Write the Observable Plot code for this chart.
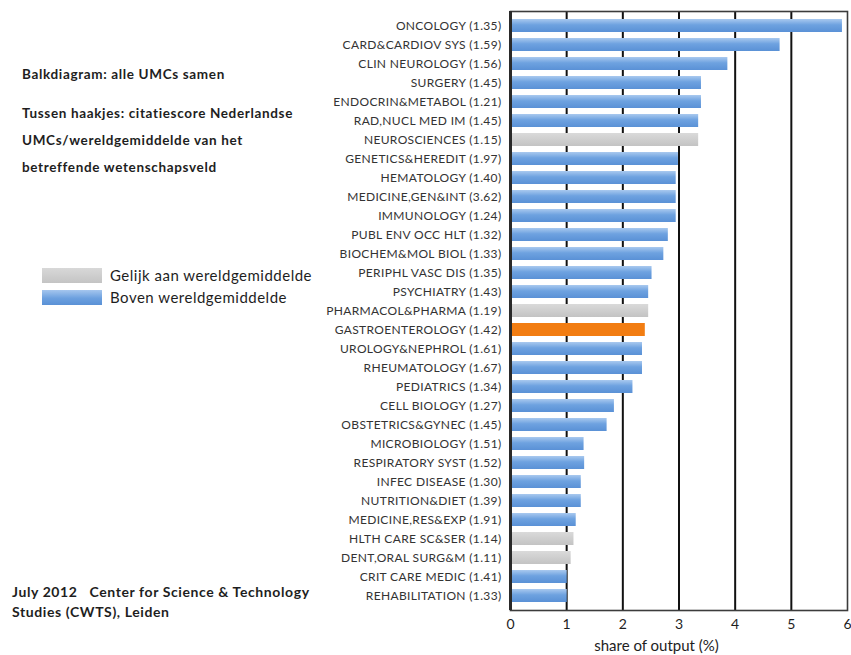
<!DOCTYPE html>
<html>
<head>
<meta charset="utf-8">
<script src="https://cdn.jsdelivr.net/npm/d3@7"></script>
<script src="https://cdn.jsdelivr.net/npm/@observablehq/plot@0.6"></script>
<style>
  html, body { margin: 0; padding: 0; background: #fff; }
  #page { position: relative; width: 851px; height: 655px; overflow: hidden; font-family: Lato, "Liberation Sans", sans-serif; color: #1e1e1e; }
  #chart { position: absolute; left: 0; top: 0; }
  .note { position: absolute; left: 22px; font-size: 13.5px; font-weight: 700; letter-spacing: 0.65px; white-space: nowrap; line-height: 16px; }
  .legend { position: absolute; left: 42px; font-size: 15px; letter-spacing: 0.5px; white-space: nowrap; }
  .legend .row { display: flex; align-items: center; height: 22px; }
  .legend .sw { width: 60px; height: 15px; margin-right: 8px; }
  .caption { position: absolute; left: 12px; top: 582px; font-size: 14px; font-weight: 700; letter-spacing: 0.6px; line-height: 20px; white-space: nowrap; }
</style>
</head>
<body>
<div id="page">
  <div id="chart"></div>
  <div class="note" style="top:66px">Balkdiagram: alle UMCs samen</div>
  <div class="note" style="top:105px">Tussen haakjes: citatiescore Nederlandse</div>
  <div class="note" style="top:132px">UMCs/wereldgemiddelde van het</div>
  <div class="note" style="top:159px">betreffende wetenschapsveld</div>
  <div class="legend" style="top:264px">
    <div class="row"><div class="sw" style="background:linear-gradient(#d8d8d8,#c4c4c4)"></div>Gelijk aan wereldgemiddelde</div>
    <div class="row"><div class="sw" style="background:linear-gradient(#a5c6ee,#6ca0df 55%,#5a91d6)"></div>Boven wereldgemiddelde</div>
  </div>
  <div class="caption">July 2012&nbsp;&nbsp;&nbsp;Center for Science &amp; Technology<br>Studies (CWTS), Leiden</div>
</div>
<script>
// Research fields, top to bottom
const fields = [
  "ONCOLOGY", "CARD&CARDIOV SYS", "CLIN NEUROLOGY", "SURGERY", "ENDOCRIN&METABOL",
  "RAD,NUCL MED IM", "NEUROSCIENCES", "GENETICS&HEREDIT", "HEMATOLOGY", "MEDICINE,GEN&INT",
  "IMMUNOLOGY", "PUBL ENV OCC HLT", "BIOCHEM&MOL BIOL", "PERIPHL VASC DIS", "PSYCHIATRY",
  "PHARMACOL&PHARMA", "GASTROENTEROLOGY", "UROLOGY&NEPHROL", "RHEUMATOLOGY", "PEDIATRICS",
  "CELL BIOLOGY", "OBSTETRICS&GYNEC", "MICROBIOLOGY", "RESPIRATORY SYST", "INFEC DISEASE",
  "NUTRITION&DIET", "MEDICINE,RES&EXP", "HLTH CARE SC&SER", "DENT,ORAL SURG&M", "CRIT CARE MEDIC",
  "REHABILITATION"
];

// Citation score of the Dutch UMCs relative to the world average
const citationScores = [
  1.35, 1.59, 1.56, 1.45, 1.21,
  1.45, 1.15, 1.97, 1.40, 3.62,
  1.24, 1.32, 1.33, 1.35, 1.43,
  1.19, 1.42, 1.61, 1.67, 1.34,
  1.27, 1.45, 1.51, 1.52, 1.30,
  1.39, 1.91, 1.14, 1.11, 1.41,
  1.33
];

// Share of output (%)
const shareOfOutput = [
  5.91, 4.80, 3.87, 3.40, 3.40,
  3.35, 3.35, 2.99, 2.95, 2.95,
  2.95, 2.81, 2.73, 2.52, 2.46,
  2.46, 2.40, 2.35, 2.35, 2.18,
  1.85, 1.72, 1.31, 1.32, 1.26,
  1.26, 1.17, 1.13, 1.08, 1.01,
  1.01
];

// "boven" = above world average, "gelijk" = equal to world average, "focus" = highlighted field
const status = [
  "boven", "boven", "boven", "boven", "boven",
  "boven", "gelijk", "boven", "boven", "boven",
  "boven", "boven", "boven", "boven", "boven",
  "gelijk", "focus", "boven", "boven", "boven",
  "boven", "boven", "boven", "boven", "boven",
  "boven", "boven", "gelijk", "gelijk", "boven",
  "boven"
];

const xTicks = [0, 1, 2, 3, 4, 5, 6];
const gridTicks = [1, 2, 3, 4, 5];
const axisTitle = "share of output (%)";

const rows = fields.map((f, i) => ({
  label: `${f} (${citationScores[i].toFixed(2)})`,
  share: shareOfOutput[i],
  status: status[i]
}));

const chart = Plot.plot({
  width: 851,
  height: 655,
  marginLeft: 510,
  marginRight: 4,
  marginTop: 11,
  marginBottom: 45,
  style: { fontFamily: "Lato, 'Liberation Sans', sans-serif", background: "transparent", color: "#1e1e1e" },
  x: { domain: [0, 6] },
  y: { domain: rows.map(d => d.label), padding: 0.3 },
  marks: [
    Plot.ruleX(gridTicks, { stroke: "#111", strokeWidth: 2 }),
    Plot.barX(rows.filter(d => d.status === "boven"), { x: "share", y: "label", fill: "url(#gradBoven)" }),
    Plot.barX(rows.filter(d => d.status === "gelijk"), { x: "share", y: "label", fill: "url(#gradGelijk)" }),
    Plot.barX(rows.filter(d => d.status === "focus"), { x: "share", y: "label", fill: "#f27d12" }),
    Plot.frame({ stroke: "#3c3c3c", strokeWidth: 1.6 }),
    Plot.ruleX([0], { stroke: "#2a2a2a", strokeWidth: 3 }),
    Plot.axisX({ ticks: xTicks, tickSize: 0, tickPadding: 9, fontSize: 14, label: null, tickFormat: d => d }),
    Plot.axisY({ tickSize: 0, tickPadding: 9, fontSize: 12, label: null, fill: "#333" }),
    Plot.text([axisTitle], { x: 2.6, frameAnchor: "bottom", dy: 40, fontSize: 15, fill: "#1e1e1e" })
  ]
});

// Vertical gradients for the bar fills
d3.select(chart).insert("defs", ":first-child").html(`
  <linearGradient id="gradBoven" x1="0" y1="0" x2="0" y2="1">
    <stop offset="0%" stop-color="#a9c9ef"/>
    <stop offset="45%" stop-color="#6ea2e0"/>
    <stop offset="100%" stop-color="#5a91d6"/>
  </linearGradient>
  <linearGradient id="gradGelijk" x1="0" y1="0" x2="0" y2="1">
    <stop offset="0%" stop-color="#dadada"/>
    <stop offset="100%" stop-color="#c3c3c3"/>
  </linearGradient>
`);

// Slight tracking on the field labels
d3.select(chart).selectAll('g[aria-label="y-axis tick label"] text').style("letter-spacing", "0.35px");

document.getElementById("chart").appendChild(chart);
</script>
</body>
</html>
